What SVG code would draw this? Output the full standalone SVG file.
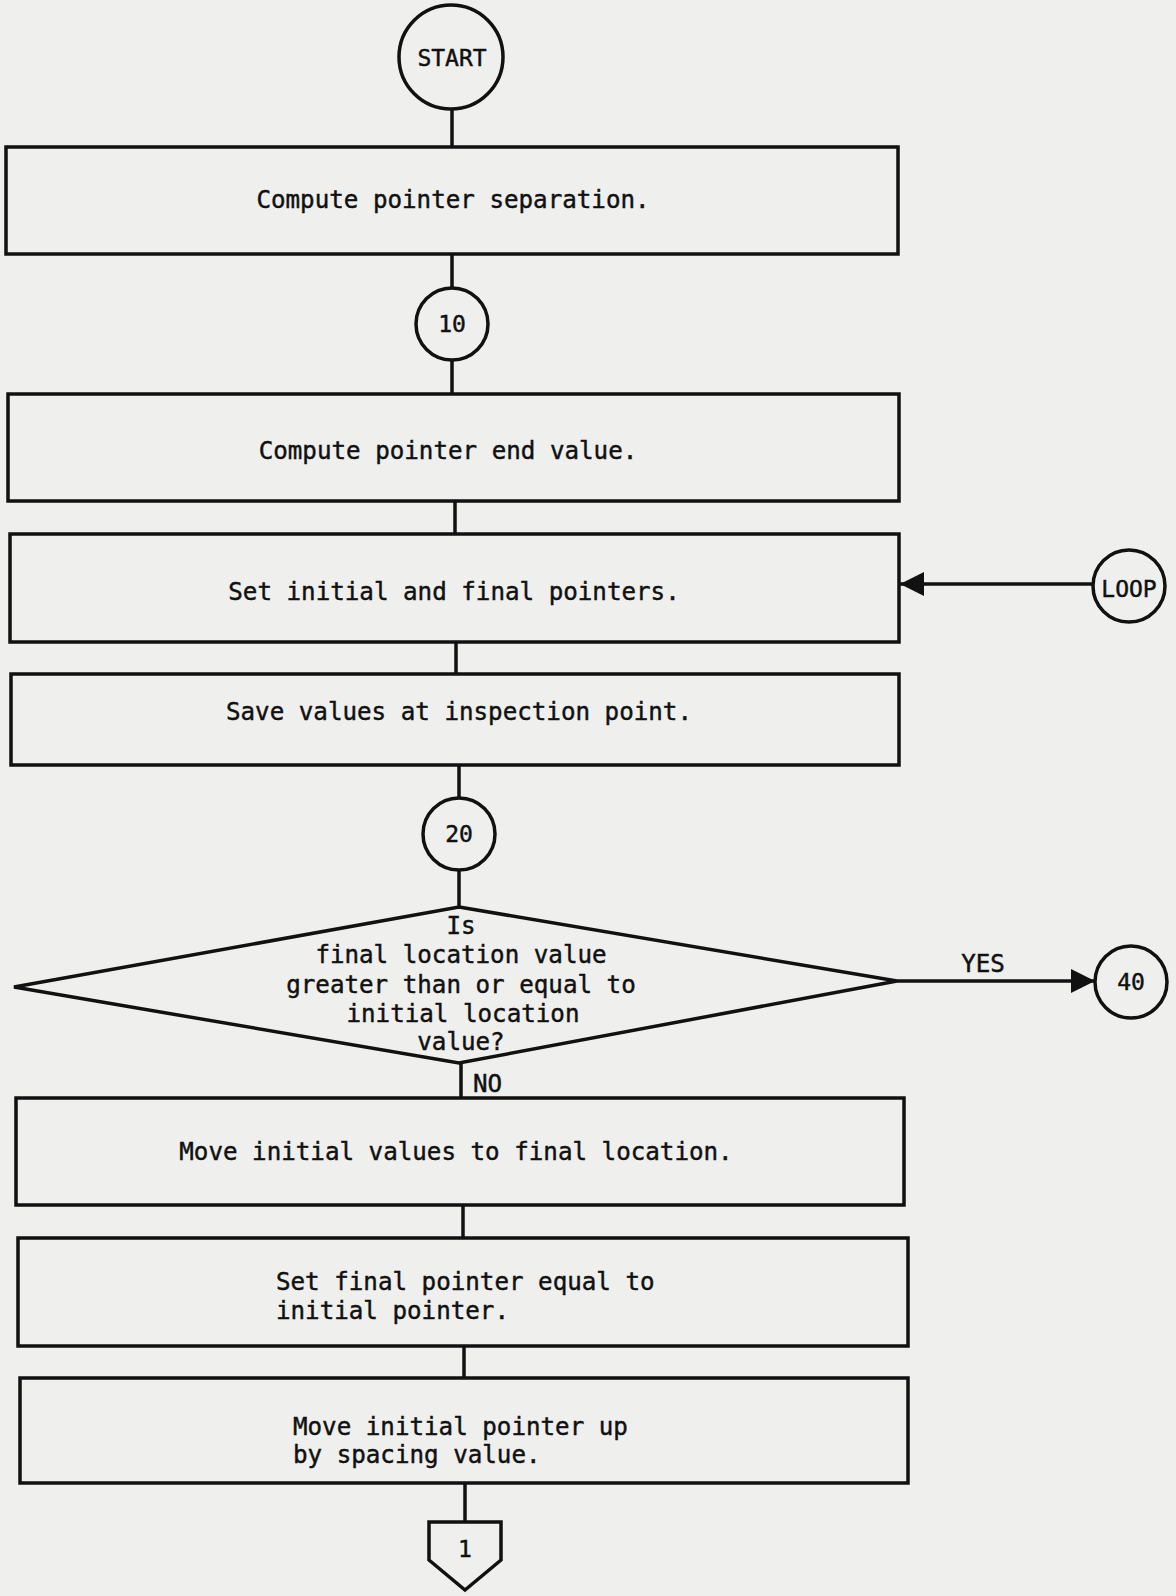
<svg xmlns="http://www.w3.org/2000/svg" width="1176" height="1596" viewBox="0 0 1176 1596">
<style>
.bg{fill:#efefed}
.shape{fill:none;stroke:#111;stroke-width:3.5}
.line{fill:none;stroke:#111;stroke-width:3.5}
.t{font-family:"DejaVu Sans Mono","Liberation Mono",monospace;font-size:24.2px;fill:#111;stroke:#111;stroke-width:0.45}
.c{text-anchor:middle}
.s{font-size:23px}
</style>
<defs>
<marker id="arr" markerUnits="userSpaceOnUse" markerWidth="26" markerHeight="26" refX="24" refY="12" orient="auto">
<path d="M0,0 L24,12 L0,24 z" fill="#111"/>
</marker>
</defs>
<rect class="bg" x="0" y="0" width="1176" height="1596"/>
<g id="connectors">
<line class="line" x1="452" y1="109" x2="452" y2="147"/>
<line class="line" x1="452" y1="254" x2="452" y2="288"/>
<line class="line" x1="452" y1="360" x2="452" y2="394"/>
<line class="line" x1="455" y1="501" x2="455" y2="534"/>
<line class="line" x1="456" y1="642" x2="456" y2="674"/>
<line class="line" x1="459" y1="765" x2="459" y2="798"/>
<line class="line" x1="459" y1="870" x2="459" y2="907"/>
<line class="line" x1="461" y1="1063" x2="461" y2="1098"/>
<line class="line" x1="463" y1="1205" x2="463" y2="1238"/>
<line class="line" x1="464" y1="1346" x2="464" y2="1378"/>
<line class="line" x1="465" y1="1483" x2="465" y2="1522"/>
<line class="line" x1="1093" y1="584" x2="900" y2="584" marker-end="url(#arr)"/>
<line class="line" x1="897" y1="981" x2="1095" y2="981" marker-end="url(#arr)"/>
<text class="t c" x="983" y="972">YES</text>
<text class="t" x="473" y="1092">NO</text>
</g>
<g id="start">
<circle class="shape" cx="451" cy="57" r="52"/>
<text class="t c s" x="452" y="66">START</text>
</g>
<g id="box1">
<rect class="shape" x="6" y="147" width="892" height="107"/>
<text class="t c" x="453" y="208">Compute pointer separation.</text>
</g>
<g id="c10">
<circle class="shape" cx="452" cy="324" r="36"/>
<text class="t c s" x="452" y="332">10</text>
</g>
<g id="box2">
<rect class="shape" x="8" y="394" width="891" height="107"/>
<text class="t c" x="448" y="459">Compute pointer end value.</text>
</g>
<g id="box3">
<rect class="shape" x="10" y="534" width="889" height="108"/>
<text class="t c" x="454" y="600">Set initial and final pointers.</text>
</g>
<g id="loop">
<circle class="shape" cx="1129" cy="586" r="36"/>
<text class="t c s" x="1129" y="597">LOOP</text>
</g>
<g id="box4">
<rect class="shape" x="11" y="674" width="888" height="91"/>
<text class="t c" x="459" y="720">Save values at inspection point.</text>
</g>
<g id="c20">
<circle class="shape" cx="459" cy="834" r="36"/>
<text class="t c s" x="459" y="842">20</text>
</g>
<g id="decision">
<polygon class="shape" points="459,907 897,981 459,1063 14,987"/>
<text class="t c" x="461" y="934">Is</text>
<text class="t c" x="461" y="963">final location value</text>
<text class="t c" x="461" y="993">greater than or equal to</text>
<text class="t c" x="463" y="1022">initial location</text>
<text class="t c" x="461" y="1050">value?</text>
</g>
<g id="c40">
<circle class="shape" cx="1131" cy="982" r="36"/>
<text class="t c s" x="1131" y="990">40</text>
</g>
<g id="box5">
<rect class="shape" x="16" y="1098" width="888" height="107"/>
<text class="t c" x="456" y="1160">Move initial values to final location.</text>
</g>
<g id="box6">
<rect class="shape" x="18" y="1238" width="890" height="108"/>
<text class="t" x="276" y="1290">Set final pointer equal to</text>
<text class="t" x="276" y="1319">initial pointer.</text>
</g>
<g id="box7">
<rect class="shape" x="20" y="1378" width="888" height="105"/>
<text class="t" x="293" y="1435">Move initial pointer up</text>
<text class="t" x="293" y="1463">by spacing value.</text>
</g>
<g id="offpage1">
<polygon class="shape" points="429,1522 501,1522 501,1560 465,1590 429,1560"/>
<text class="t c s" x="465" y="1557">1</text>
</g>
</svg>
